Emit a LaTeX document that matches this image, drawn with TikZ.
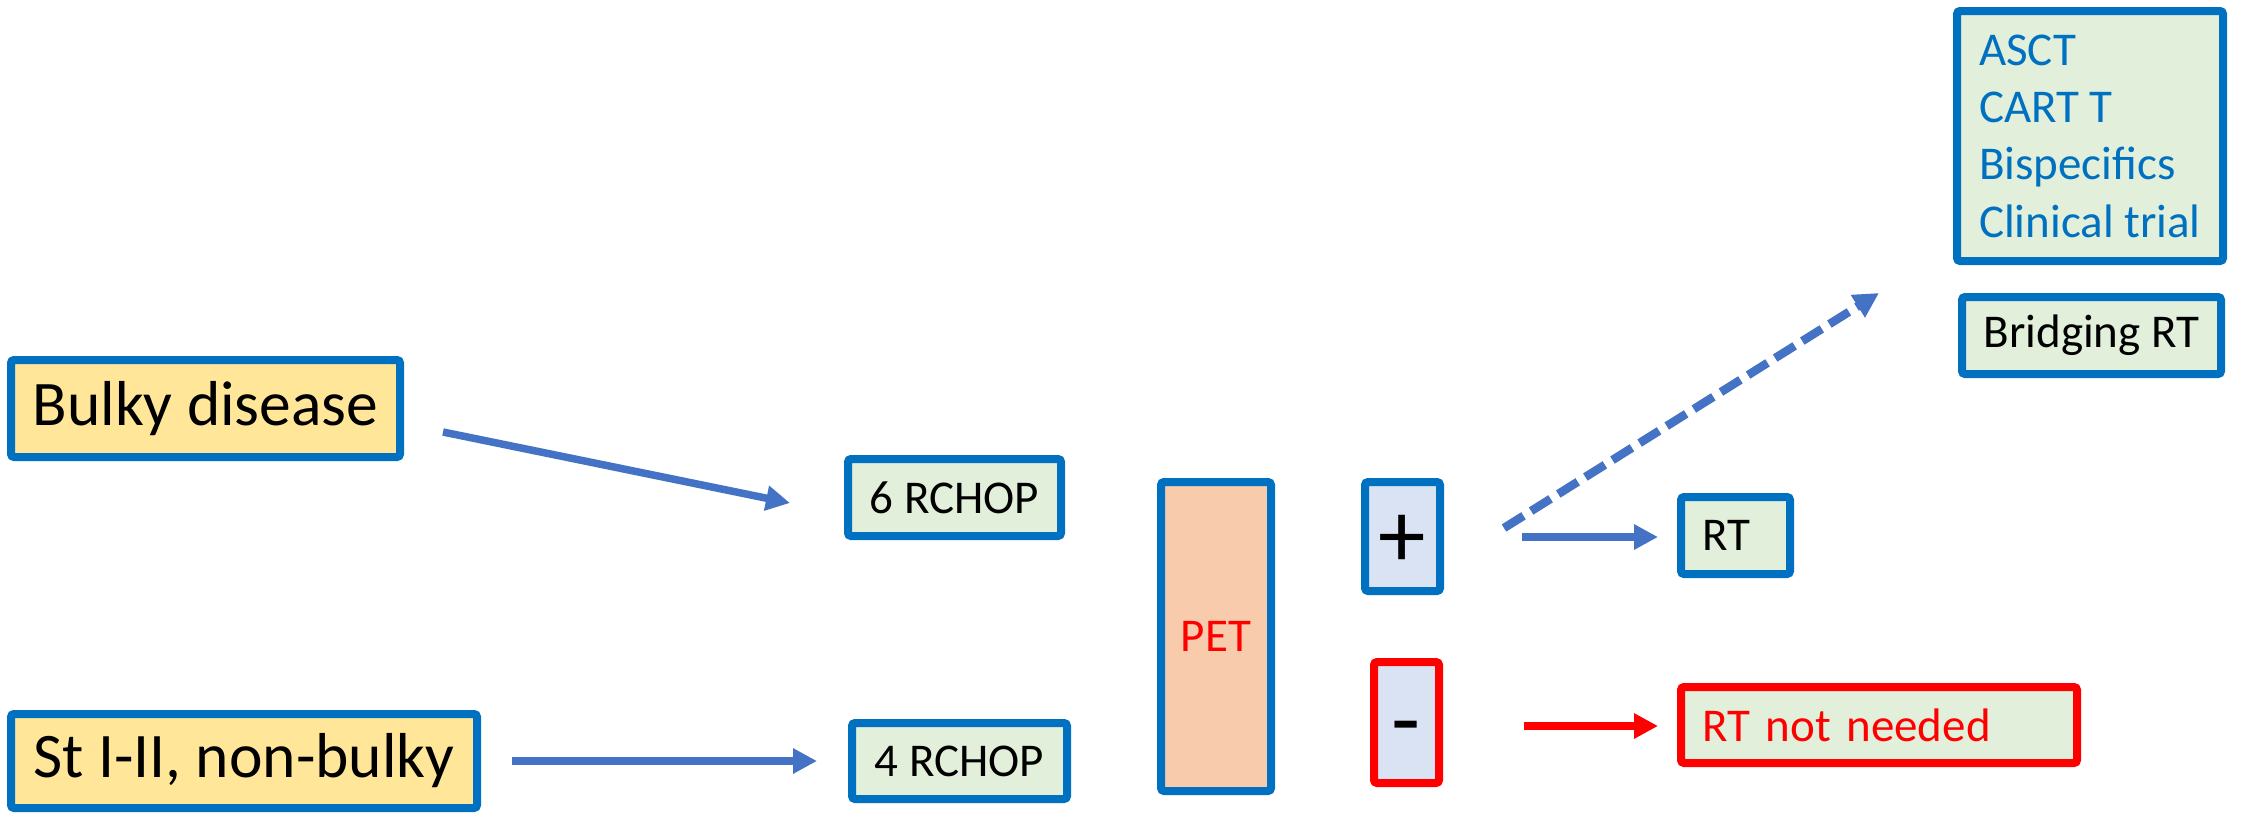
\documentclass[tikz,border=0pt]{standalone}
\usepackage{fontspec}
\setmainfont{Carlito}
\usetikzlibrary{arrows.meta,calc}

\definecolor{edgeblue}{HTML}{0070C0}
\definecolor{edgered}{HTML}{FF0000}
\definecolor{arrowblue}{HTML}{4472C4}
\definecolor{fillyellow}{HTML}{FFE699}
\definecolor{fillgreen}{HTML}{E2EFDA}
\definecolor{fillpeach}{HTML}{F8CBAD}
\definecolor{fillpale}{HTML}{DAE3F3}

\tikzset{
  box/.style={draw=edgeblue, line width=8pt, rounded corners=3pt, inner sep=0pt},
  dims/.style 2 args={minimum width=#1pt-8pt, minimum height=#2pt-8pt},
  bigtext/.style={font=\fontsize{63.5}{76}\selectfont},
  midtext/.style={font=\fontsize{47}{57.3}\selectfont},
  signtext/.style={font=\fontsize{95}{100}\selectfont},
  flow/.style={draw=arrowblue, line width=7.5pt, -{Triangle[length=24pt,width=24pt]}},
  flowred/.style={draw=edgered, line width=7.5pt, -{Triangle[length=24pt,width=24pt]}},
  flowdash/.style={draw=arrowblue, line width=8.5pt, dash pattern=on 23pt off 9pt,
    -{Triangle[length=25pt,width=25pt]}}
}

\begin{document}
\begin{tikzpicture}[x=1pt, y=-1pt]
\useasboundingbox[fill=white] (0,0) rectangle (2242,812);

% starting situations
\node[box, fill=fillyellow, dims={397}{105}, bigtext] (bulky) at (205.5,408.5) {Bulky disease};
\node[box, fill=fillyellow, dims={474}{102}, bigtext] (stage) at (244,761) {St I-II, non-bulky};

% chemotherapy
\node[box, fill=fillgreen, dims={221}{85}, midtext] (r6) at (954.5,497.5) {6 RCHOP};
\node[box, fill=fillgreen, dims={223}{84}, midtext] (r4) at (959.5,761) {4 RCHOP};

% imaging
\node[box, fill=fillpeach, dims={118}{317}, midtext, text=edgered] (pet) at (1216,636.5) {PET};

% PET result
\node[box, fill=fillpale, dims={83}{117}] (pos) at (1402.5,536.5) {};
\node[signtext] (possign) at ($(pos.center)+(0,4.5)$) {+};
\node[box, draw=edgered, fill=fillpale, dims={73}{129}] (neg) at (1406.5,722.5) {};
\node[signtext] (negsign) at ($(neg.center)+(0,14)$) {-};

% further treatment
\node[box, fill=fillgreen, dims={117}{85}, midtext, text width=67pt, inner xsep=21pt, align=left] (rt) at (1735.5,535.5) {RT};
\node[box, draw=edgered, fill=fillgreen, dims={404}{84}, midtext, text=edgered, text width=354pt, inner xsep=21pt, align=left] (rtn) at (1879,725) {RT not needed};
\node[box, fill=fillgreen, dims={274}{258}, midtext, text=edgeblue, align=left] (opts) at (2090,136) {ASCT\\CART T\\Bispecifics\\Clinical trial};
\node[box, fill=fillgreen, dims={267}{85}, midtext] (bridge) at (2091.5,335.5) {Bridging RT};

% connectors
\draw[flow] ($(bulky.east)+(39,23.5)$) -- ($(r6.west)+(-54,5.5)$);
\draw[flow] ($(stage.east)+(31,0)$) -- ($(r4.west)+(-31,0)$);
\draw[flowdash] ($(pos.east)+(60,-8.5)$) -- ($(bridge.north west)+(-79,0)$);
\draw[flow] ($(pos.east)+(78,0.5)$) -- ($(rt.west)+(-19,1.5)$);
\draw[flowred] ($(neg.east)+(81,3.5)$) -- ($(rtn.west)+(-19,1)$);
\end{tikzpicture}
\end{document}
